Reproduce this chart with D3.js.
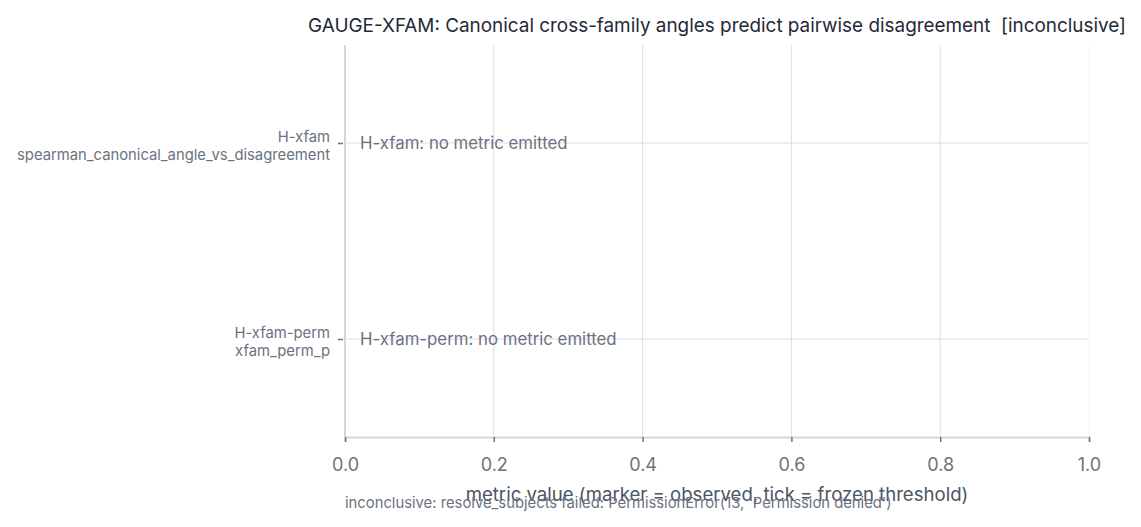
<!DOCTYPE html>
<html>
<head>
<meta charset="utf-8">
<script src="https://cdn.jsdelivr.net/npm/d3@7"></script>
<style>
  body { margin: 0; background: #fff; }
  svg { font-family: Inter, "Noto Sans", sans-serif; }
</style>
</head>
<body>
<svg id="chart" width="1141" height="527"></svg>
<script>
// hypotheses shown on the y axis (id + metric name)
const hypIds = ["H-xfam", "H-xfam-perm"];
const metricNames = ["spearman_canonical_angle_vs_disagreement", "xfam_perm_p"];
const observed = [null, null];   // no metric emitted for either
const xTicks = [0, 0.2, 0.4, 0.6, 0.8, 1.0];

const title = "GAUGE-XFAM: Canonical cross-family angles predict pairwise disagreement  [inconclusive]";
const xTitle = "metric value (marker = observed, tick = frozen threshold)";
const footnote = "inconclusive: resolve_subjects failed: PermissionError(13, 'Permission denied')";

const svg = d3.select("#chart");
const plotL = 345, plotR = 1089, plotT = 45, plotB = 437;

const x = d3.scaleLinear().domain([0, 1]).range([plotL, plotR]);
const y = d3.scalePoint().domain(hypIds).range([plotT, plotB]).padding(0.5);

// vertical gridlines
svg.append("g").selectAll("line")
    .data(xTicks.slice(1))
    .enter().append("line")
    .attr("x1", d => x(d)).attr("x2", d => x(d))
    .attr("y1", plotT).attr("y2", plotB)
    .attr("stroke", d => d === 1 ? "#f4f4f8" : "#dcdde8")
    .attr("stroke-width", 1);

// horizontal gridlines
svg.append("g").selectAll("line")
    .data(hypIds)
    .enter().append("line")
    .attr("x1", plotL).attr("x2", plotR)
    .attr("y1", d => y(d)).attr("y2", d => y(d))
    .attr("stroke", "#dcdde8");

// x axis
const xAxis = svg.append("g")
    .attr("transform", `translate(0,${plotB})`)
    .call(d3.axisBottom(x).tickValues(xTicks).tickFormat(d3.format(".1f")).tickSize(5).tickPadding(16));
xAxis.select(".domain").attr("stroke", "#d3d6de").attr("stroke-width", 2);
xAxis.selectAll(".tick line").attr("stroke", "#6b7280").attr("stroke-width", 1.5);
xAxis.selectAll(".tick text").attr("fill", "#6b7280").attr("font-size", 18).attr("font-family", "Inter");

// y axis
const yAxis = svg.append("g")
    .attr("transform", `translate(${plotL},0)`)
    .call(d3.axisLeft(y).tickSize(5).tickFormat(""));
yAxis.select(".domain").attr("stroke", "#d3d6de").attr("stroke-width", 2)
    .attr("d", `M0,${plotT}V${plotB}`);
yAxis.selectAll(".tick line").attr("stroke", "#6b7280").attr("stroke-width", 1.5)
    .attr("x1", -7).attr("x2", -2);

// two-line y labels
yAxis.selectAll(".tick").each(function(d, i) {
    const t = d3.select(this).append("text")
        .attr("x", -15)
        .attr("text-anchor", "end")
        .attr("fill", "#6b7280")
        .attr("font-size", 14.8)
        .attr("font-family", "Inter");
    t.append("tspan").attr("x", -15).attr("y", -2).text(hypIds[i]);
    t.append("tspan").attr("x", -15).attr("y", 16).text(metricNames[i]);
});

// no metric notes
svg.append("g").selectAll("text")
    .data(hypIds.filter((d, i) => observed[i] === null))
    .enter().append("text")
    .attr("x", x(0) + 15)
    .attr("y", d => y(d) + 6)
    .attr("fill", "#6b7280")
    .attr("font-size", 16.8)
    .text(d => d + ": no metric emitted");

// title
svg.append("text")
    .attr("x", 1126).attr("y", 32)
    .attr("text-anchor", "end")
    .attr("fill", "#1f2937")
    .attr("font-size", 18.9)
    .style("white-space", "pre")
    .text(title);

svg.append("text")
    .attr("x", (plotL + plotR) / 2).attr("y", 501)
    .attr("text-anchor", "middle")
    .attr("fill", "#4b5563")
    .attr("font-size", 18.6)
    .text(xTitle);

svg.append("text")
    .attr("x", plotL).attr("y", 508)
    .attr("fill", "#6b7280")
    .attr("font-size", 14.8)
    .text(footnote);
</script>
</body>
</html>
